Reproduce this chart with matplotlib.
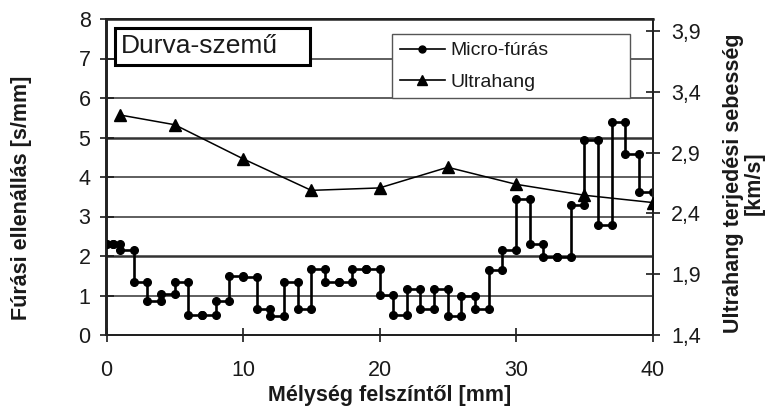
import numpy as np
import matplotlib.pyplot as plt
from matplotlib.lines import Line2D
from matplotlib.patches import Rectangle

plt.rcParams['font.family'] = ['Liberation Sans', 'DejaVu Sans']

# Micro-fúrás: each value holds from its start depth to the next start depth
mf_start = [0, 0.5, 1, 2, 3, 4, 5, 6, 7, 8, 9, 10, 11, 12, 13, 14, 15, 16, 17, 18,
            19, 20, 21, 22, 23, 24, 25, 26, 27, 28, 29, 30, 31, 32, 33, 34, 35, 36, 37, 38, 39]
mf_end = 40
mf_value = [2.3, 2.3, 2.15, 1.33, 0.86, 1.04, 1.35, 0.51, 0.51, 0.86, 1.49, 1.48, 0.67, 0.49,
            1.35, 0.66, 1.66, 1.33, 1.33, 1.66, 1.66, 1.01, 0.51, 1.16, 0.66, 1.16, 0.49, 0.99,
            0.66, 1.65, 2.15, 3.44, 2.3, 1.98, 1.98, 3.29, 4.94, 2.78, 5.39, 4.58, 3.61]

# Ultrahang (right axis)
uh_depth = [1, 5, 10, 15, 20, 25, 30, 35, 40]
uh_speed = [3.21, 3.13, 2.85, 2.59, 2.61, 2.78, 2.64, 2.55, 2.49]

x_ticks = [0, 10, 20, 30, 40]
left_ticks = [0, 1, 2, 3, 4, 5, 6, 7, 8]
right_ticks = [1.4, 1.9, 2.4, 2.9, 3.4, 3.9]
right_labels = ['1,4', '1,9', '2,4', '2,9', '3,4', '3,9']

# build the step path: two points per segment
edges = mf_start + [mf_end]
xs, ys = [], []
for i, v in enumerate(mf_value):
    xs += [edges[i], edges[i + 1]]
    ys += [v, v]

txt = '#1a1a1a'
fig = plt.figure(figsize=(7.65, 4.09), dpi=100)
ax = fig.add_axes([106.5 / 765, 74 / 409, 546 / 765, 316 / 409])
ax2 = ax.twinx()

for yv in left_ticks[1:-1]:
    ax.axhline(yv, color='#333333', lw=1.8 if yv in (2, 5) else 1.1, zorder=0)

ax.plot(xs, ys, color='black', lw=1.9, marker='o', ms=5.5, zorder=3)
ax2.plot(uh_depth, uh_speed, color='black', lw=1.1, marker='^', ms=8, zorder=3)

ax.set_xlim(0, 40)
ax.set_ylim(0, 8)
ax2.set_ylim(1.4, 4.0)
ax.set_xticks(x_ticks)
ax.set_yticks(left_ticks)
ax2.set_yticks(right_ticks)
ax2.set_yticklabels(right_labels)

for a in (ax, ax2):
    for s in a.spines.values():
        s.set_linewidth(1.4)
        s.set_color('#222222')
ax.spines['top'].set_linewidth(1.8)
ax.tick_params(axis='y', direction='inout', length=10, width=1.2, labelsize=15.5, pad=6.5, colors=txt)
ax.tick_params(axis='x', direction='inout', length=10, width=1.2, labelsize=15.5, pad=13, colors=txt)
ax2.tick_params(axis='y', direction='inout', length=10, width=1.2, labelsize=15.5, pad=8.5, colors=txt)

# title box
ax.add_patch(Rectangle((0.0156, 0.854), 0.357, 0.1175, transform=ax.transAxes,
                       facecolor='white', edgecolor='black', lw=2.2, zorder=4))
ax.text(0.027, 0.913, 'Durva-szemű', transform=ax.transAxes, fontsize=19,
        ha='left', va='center', color=txt, zorder=5)

handles = [Line2D([], [], color='black', lw=1.2, marker='o', ms=5),
           Line2D([], [], color='black', lw=1.2, marker='^', ms=7)]
leg = ax2.legend(handles, ['Micro-fúrás', 'Ultrahang'], loc='upper left',
                 bbox_to_anchor=(0.523, 0.9525, 0.436, 0.0), mode='expand',
                 fontsize=14, frameon=True, fancybox=False, framealpha=1,
                 edgecolor='#555555', borderaxespad=0, handlelength=2.3,
                 handletextpad=0.3, labelspacing=0.7, borderpad=0.4)
leg.get_frame().set_linewidth(1.0)
for t in leg.get_texts():
    t.set_color(txt)

fig.text(22 / 765, 1 - 198 / 409, 'Fúrási ellenállás [s/mm]', rotation=90,
         ha='center', va='center', fontsize=15.5, fontweight='bold', color=txt)
fig.text(744 / 765, 1 - 183 / 409, 'Ultrahang terjedési sebesség\n[km/s]', rotation=90,
         ha='center', va='center', multialignment='center', fontsize=15.5,
         fontweight='bold', color=txt, linespacing=0.98)
fig.text(390 / 765, 1 - 395 / 409, 'Mélység felszíntől [mm]', ha='center', va='center',
         fontsize=15.5, fontweight='bold', color=txt)

fig.savefig('out.png', dpi=100)
